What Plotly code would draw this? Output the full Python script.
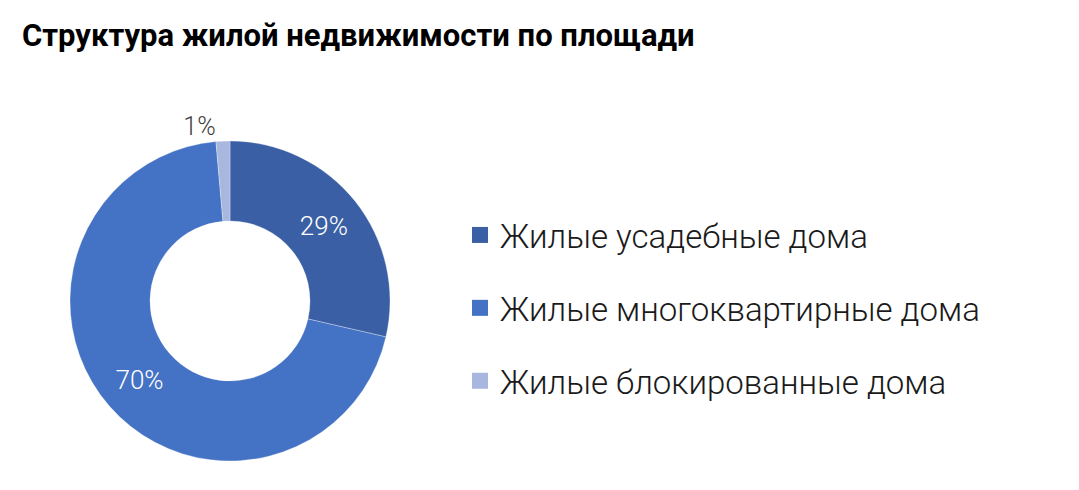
import plotly.graph_objects as go

# структура жилой недвижимости по площади
categories = ["Жилые усадебные дома", "Жилые многоквартирные дома", "Жилые блокированные дома"]
shares = [28.6, 70.0, 1.4]
colors = ["#3A5FA5", "#4472C4", "#A7B7DE"]

fig = go.Figure()

fig.add_trace(go.Pie(
    labels=categories,
    values=shares,
    hole=0.5,
    sort=False,
    direction="clockwise",
    rotation=0,
    showlegend=False,
    marker=dict(colors=colors, line=dict(color="rgba(255,255,255,0.6)", width=0.5)),
    texttemplate="%{percent:.0%}",
    textposition=["inside", "inside", "outside"],
    insidetextorientation="horizontal",
    insidetextfont=dict(color="#FFFFFF", size=26, family="Roboto", weight=300),
    outsidetextfont=dict(color="#404040", size=25, family="Roboto", weight=300),
    domain=dict(x=[62 / 1079, 382 / 1079], y=[37 / 490, 357 / 490]),
))

# легенда: по одному пункту на категорию, с отдельной группой для интервала
for name, color in zip(categories, colors):
    fig.add_trace(go.Scatter(
        x=[None], y=[None],
        mode="markers",
        name=name,
        legendgroup=name,
        marker=dict(symbol="square", size=16, color=color),
        hoverinfo="skip",
    ))

fig.update_layout(
    width=1079,
    height=490,
    paper_bgcolor="#FFFFFF",
    plot_bgcolor="#FFFFFF",
    margin=dict(l=0, r=0, t=0, b=0),
    xaxis=dict(visible=False),
    yaxis=dict(visible=False),
    title=dict(
        text="Структура жилой недвижимости по площади",
        font=dict(family="Roboto", size=31, weight=700, color="#000000"),
        xref="container", yref="container",
        x=14 / 1079, xanchor="left",
        y=1 - 27 / 490, yanchor="middle",
        pad=dict(l=0, r=0, t=0, b=0),
    ),
    showlegend=True,
    legend=dict(
        x=452 / 1079, xanchor="left",
        y=1 - 300 / 490, yanchor="middle",
        font=dict(family="Roboto", size=33, weight=300, color="#1A1A1A"),
        itemsizing="trace",
        tracegroupgap=27,
        bgcolor="rgba(0,0,0,0)",
    ),
)

fig.write_html("out.html")
